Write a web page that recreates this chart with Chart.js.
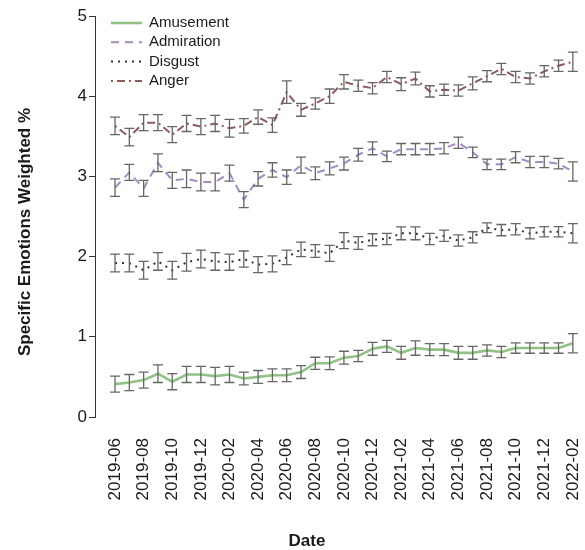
<!DOCTYPE html>
<html>
<head>
<meta charset="utf-8">
<script src="https://cdn.jsdelivr.net/npm/chart.js@4.4.1/dist/chart.umd.min.js"></script>
<style>
  html, body { margin: 0; padding: 0; background: #fff; }
</style>
</head>
<body>
<canvas id="chart" width="585" height="550"></canvas>
<script>
/* ==============================
   DATA
================================ */
const months = [
  "2019-06", "2019-07", "2019-08", "2019-09", "2019-10", "2019-11", "2019-12",
  "2020-01", "2020-02", "2020-03", "2020-04", "2020-05", "2020-06", "2020-07",
  "2020-08", "2020-09", "2020-10", "2020-11", "2020-12", "2021-01", "2021-02",
  "2021-03", "2021-04", "2021-05", "2021-06", "2021-07", "2021-08", "2021-09",
  "2021-10", "2021-11", "2021-12", "2022-01", "2022-02"
];

const amusement = [0.41, 0.43, 0.46, 0.54, 0.44, 0.53, 0.53, 0.51, 0.53, 0.48, 0.50, 0.52, 0.52, 0.56, 0.67, 0.67, 0.74,
                   0.76, 0.85, 0.88, 0.80, 0.86, 0.84, 0.84, 0.80, 0.80, 0.83, 0.81, 0.86, 0.86, 0.86, 0.86, 0.92];
const amusementErr = [0.10, 0.10, 0.10, 0.11, 0.10, 0.10, 0.10, 0.11, 0.10, 0.08, 0.08, 0.08, 0.08, 0.08, 0.075, 0.08, 0.08,
                      0.07, 0.08, 0.075, 0.08, 0.09, 0.075, 0.075, 0.08, 0.08, 0.07, 0.07, 0.065, 0.065, 0.065, 0.065, 0.12];

const admiration = [2.86, 3.05, 2.85, 3.17, 2.95, 2.97, 2.93, 2.93, 3.04, 2.71, 2.97, 3.08, 2.99, 3.14, 3.04, 3.10, 3.16,
                    3.27, 3.35, 3.25, 3.34, 3.34, 3.34, 3.35, 3.42, 3.30, 3.15, 3.15, 3.24, 3.18, 3.18, 3.16, 3.06];
const admirationErr = [0.11, 0.10, 0.10, 0.11, 0.10, 0.11, 0.11, 0.11, 0.10, 0.10, 0.09, 0.09, 0.09, 0.10, 0.08, 0.08, 0.08,
                       0.08, 0.08, 0.065, 0.07, 0.07, 0.07, 0.07, 0.07, 0.065, 0.065, 0.065, 0.07, 0.07, 0.07, 0.065, 0.12];

const disgust = [1.92, 1.92, 1.83, 1.94, 1.83, 1.93, 1.97, 1.94, 1.93, 1.97, 1.90, 1.91, 1.99, 2.09, 2.07, 2.04, 2.20,
                 2.17, 2.21, 2.22, 2.29, 2.29, 2.22, 2.26, 2.20, 2.24, 2.36, 2.33, 2.34, 2.29, 2.31, 2.31, 2.29];
const disgustErr = [0.11, 0.11, 0.11, 0.11, 0.11, 0.11, 0.11, 0.11, 0.10, 0.10, 0.10, 0.10, 0.09, 0.09, 0.08, 0.10, 0.10,
                    0.08, 0.075, 0.07, 0.08, 0.08, 0.07, 0.07, 0.07, 0.07, 0.06, 0.07, 0.07, 0.07, 0.065, 0.065, 0.12];

const anger = [3.63, 3.49, 3.67, 3.67, 3.52, 3.66, 3.62, 3.66, 3.60, 3.63, 3.74, 3.64, 4.05, 3.83, 3.91, 4.00, 4.18,
               4.13, 4.10, 4.24, 4.15, 4.22, 4.06, 4.08, 4.07, 4.16, 4.25, 4.34, 4.24, 4.22, 4.31, 4.38, 4.43];
const angerErr = [0.11, 0.11, 0.10, 0.10, 0.10, 0.10, 0.10, 0.10, 0.11, 0.09, 0.09, 0.09, 0.14, 0.08, 0.07, 0.09, 0.09,
                  0.07, 0.07, 0.07, 0.08, 0.08, 0.07, 0.07, 0.07, 0.08, 0.07, 0.07, 0.07, 0.07, 0.07, 0.07, 0.12];

// every other month gets a label
const tickPos = [0, 2, 4, 6, 8, 10, 12, 14, 16, 18, 20, 22, 24, 26, 28, 30, 32];

const FONT = '"Liberation Sans", Arial, sans-serif';
const TEXT = "#1a1a1a";

function series(label, values, errors, color, width, dash) {
    return {
        label: label,
        data: values.map((v, i) => ({ x: i, y: v })),
        errors: errors,
        borderColor: color,
        borderWidth: width,
        borderDash: dash,
        pointRadius: 0,
        fill: false,
        tension: 0
    };
}

/* ==============================
   ERROR BARS
================================ */
const errorBars = {
    id: "errorBars",
    afterDatasetsDraw(chart) {
        const { ctx, scales: { x, y } } = chart;
        ctx.save();
        ctx.strokeStyle = "#666";
        ctx.lineWidth = 1.3;
        ctx.setLineDash([]);
        chart.data.datasets.forEach(ds => {
            ds.data.forEach((p, i) => {
                const px = x.getPixelForValue(p.x);
                const top = y.getPixelForValue(p.y + ds.errors[i]);
                const bot = y.getPixelForValue(p.y - ds.errors[i]);
                ctx.beginPath();
                ctx.moveTo(px, top);
                ctx.lineTo(px, bot);
                ctx.moveTo(px - 5, top);
                ctx.lineTo(px + 5, top);
                ctx.moveTo(px - 5, bot);
                ctx.lineTo(px + 5, bot);
                ctx.stroke();
            });
        });
        ctx.restore();
    }
};

/* ==============================
   LEGEND + AXIS TITLES
================================ */
const legendAndTitles = {
    id: "legendAndTitles",
    afterDraw(chart) {
        const ctx = chart.ctx;
        ctx.save();
        ctx.font = "15px " + FONT;
        ctx.textBaseline = "middle";
        ctx.textAlign = "left";
        chart.data.datasets.forEach((ds, k) => {
            const ly = 23 + k * 19.3;
            ctx.strokeStyle = ds.borderColor;
            ctx.lineWidth = ds.borderWidth;
            ctx.setLineDash(ds.borderDash || []);
            ctx.beginPath();
            ctx.moveTo(111, ly);
            ctx.lineTo(142, ly);
            ctx.stroke();
            ctx.setLineDash([]);
            ctx.fillStyle = TEXT;
            ctx.fillText(ds.label, 149, ly);
        });

        ctx.font = "bold 17px " + FONT;
        ctx.textAlign = "center";
        ctx.fillText("Date", 307, 541);

        ctx.translate(25, 232);
        ctx.rotate(-Math.PI / 2);
        ctx.fillText("Specific Emotions Weighted %", 0, 0);
        ctx.restore();
    }
};

new Chart(document.getElementById("chart"), {
    type: "line",
    data: {
        datasets: [
            series("Amusement", amusement, amusementErr, "#8fc283", 2.6, []),
            series("Admiration", admiration, admirationErr, "#a38bc4", 2, [8, 6]),
            series("Disgust", disgust, disgustErr, "#333333", 2, [2, 5]),
            series("Anger", anger, angerErr, "#8e5a5c", 2, [2, 4, 8, 4])
        ]
    },
    options: {
        responsive: false,
        animation: false,
        layout: { padding: { top: 16, right: 5 } },
        plugins: {
            legend: { display: false },
            tooltip: { enabled: false }
        },
        scales: {
            x: {
                type: "linear",
                min: -1.4,
                max: 32.5,
                border: { display: false },
                grid: { display: false, drawTicks: false },
                afterBuildTicks: s => { s.ticks = tickPos.map(v => ({ value: v })); },
                afterFit: s => {
                    s.height = 133;
                    s.paddingLeft = 0;
                    s.paddingRight = 0;
                },
                ticks: {
                    autoSkip: false,
                    minRotation: 90,
                    maxRotation: 90,
                    padding: 21,
                    color: TEXT,
                    font: { family: FONT, size: 17 },
                    callback: v => months[v]
                }
            },
            y: {
                min: 0,
                max: 5,
                afterFit: s => { s.width = 95; },
                border: { display: true, color: "#333", width: 1 },
                grid: { drawOnChartArea: false, drawTicks: true, tickLength: 6, color: "#333" },
                ticks: {
                    stepSize: 1,
                    padding: 2,
                    color: TEXT,
                    font: { family: FONT, size: 17 }
                }
            }
        }
    },
    plugins: [errorBars, legendAndTitles]
});
</script>
</body>
</html>
